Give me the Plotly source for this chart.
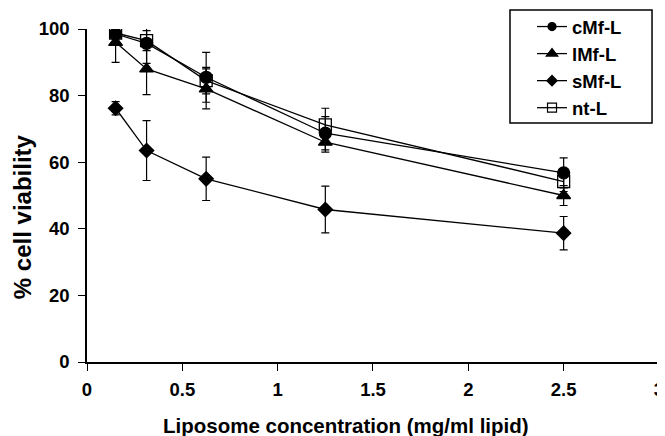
import plotly.graph_objects as go

conc = [0.15, 0.3125, 0.625, 1.25, 2.5]
series_names = ["cMf-L", "lMf-L", "sMf-L", "nt-L"]
cmf = [98.5, 95.7, 85.5, 68.7, 56.8]
cmf_err = [3.0, 6.0, 7.5, 5.0, 4.5]
lmf = [96.0, 88.0, 82.0, 66.0, 50.0]
lmf_err = [6.0, 7.7, 6.0, 3.0, 3.0]
smf = [76.2, 63.5, 55.0, 45.8, 38.7]
smf_err = [2.0, 9.0, 6.5, 7.0, 5.0]
ntl = [98.8, 96.5, 84.5, 71.2, 54.2]
ntl_err = [3.0, 3.0, 4.0, 5.0, 3.0]
x_ticks = [0, 0.5, 1, 1.5, 2, 2.5, 3]
x_ticklabels = ["0", "0.5", "1", "1.5", "2", "2.5", "3"]
y_ticks = [0, 20, 40, 60, 80, 100]
x_title = "Liposome concentration (mg/ml lipid)"
y_title = "% cell viability"

values = [cmf, lmf, smf, ntl]
errors = [cmf_err, lmf_err, smf_err, ntl_err]
symbols = ["circle", "triangle-up", "diamond", "square-open"]
sizes = [12, 12, 11, 12]
legend_sizes = [8, 10, 8, 9]

FONT = "Arial, 'Liberation Sans', sans-serif"

fig = go.Figure()
for name, v, e, s, sz in zip(series_names, values, errors, symbols, sizes):
    fig.add_trace(go.Scatter(
        x=conc, y=v, name=name, mode="lines+markers", showlegend=False,
        line=dict(color="black", width=1.3),
        marker=dict(symbol=s, size=sz, color="black", line=dict(color="black", width=1.3)),
        error_y=dict(type="data", array=e, visible=True, color="black", thickness=1.2, width=4),
    ))
# legend entries (smaller markers, as in the original legend)
for name, s, sz in zip(series_names, symbols, legend_sizes):
    fig.add_trace(go.Scatter(
        x=[None], y=[None], name=name, mode="lines+markers", showlegend=True,
        line=dict(color="black", width=1.3),
        marker=dict(symbol=s, size=sz, color="black", line=dict(color="black", width=1.2)),
    ))

# legend frame
fig.add_shape(type="rect", xref="paper", yref="paper",
              x0=0.7395, x1=0.9878, y0=0.7177, y1=1.0571,
              line=dict(color="black", width=1.5), fillcolor="white", layer="above")

# axis titles
fig.add_annotation(text=f"<b>{x_title}</b>", xref="paper", yref="paper",
                   x=0.453, y=0, xanchor="center", yanchor="middle", yshift=-63,
                   showarrow=False, font=dict(family=FONT, size=20.5, color="black"))
fig.add_annotation(text=f"<b>{y_title}</b>", xref="paper", yref="paper",
                   x=0, y=0.435, xanchor="center", yanchor="middle", xshift=-65,
                   textangle=-90, showarrow=False,
                   font=dict(family=FONT, size=24, color="black"))

fig.update_layout(
    width=657, height=428,
    margin=dict(l=79, r=6, t=21, b=74, autoexpand=False),
    paper_bgcolor="white", plot_bgcolor="white",
    font=dict(family=FONT, color="black", size=18),
    showlegend=True,
    legend=dict(
        x=0.778, y=1.063, xanchor="left", yanchor="top",
        borderwidth=0, bgcolor="rgba(0,0,0,0)",
        font=dict(family=FONT, size=18.5, color="black", weight="bold"),
        itemwidth=30,
    ),
    xaxis=dict(
        range=[0, 3.0001], tickvals=x_ticks, ticktext=x_ticklabels,
        showline=True, linecolor="black", linewidth=1.5,
        ticks="outside", ticklen=7, tickcolor="black", tickwidth=1.2,
        ticklabelstandoff=3,
        showgrid=False, zeroline=False, automargin=False,
        tickfont=dict(family=FONT, size=18.5, color="black", weight="bold"),
    ),
    yaxis=dict(
        range=[0, 100], tickvals=y_ticks,
        showline=True, linecolor="black", linewidth=1.5,
        ticks="outside", ticklen=7, tickcolor="black", tickwidth=1.2,
        ticklabelstandoff=5,
        showgrid=False, zeroline=False, automargin=False,
        tickfont=dict(family=FONT, size=18.5, color="black", weight="bold"),
    ),
)

fig.write_html("out.html")
